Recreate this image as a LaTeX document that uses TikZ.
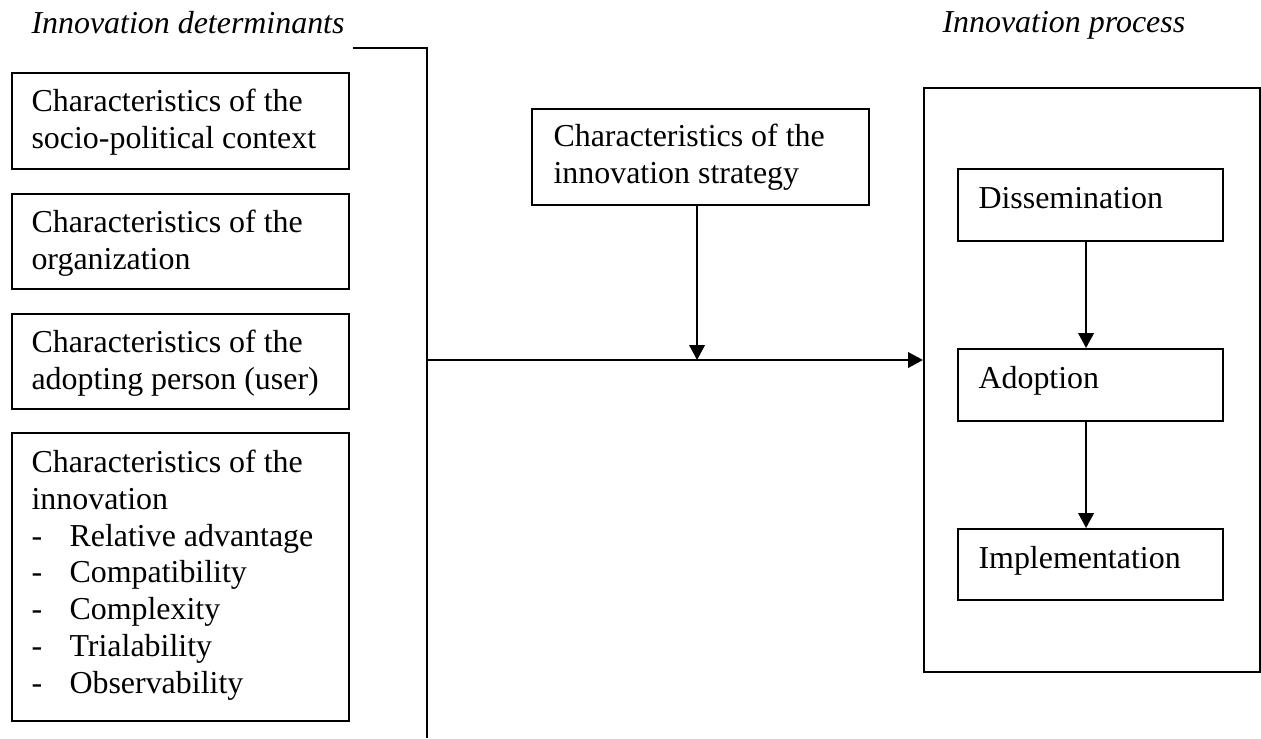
\documentclass[tikz,border=0pt]{standalone}
\usepackage{fontspec}
\setmainfont{Liberation Serif}
\usetikzlibrary{arrows.meta,calc}
\newcommand{\pxl}{0.3759pt}
\begin{document}
\begin{tikzpicture}[x=0.3759pt,y=-0.3759pt,
  box/.style={draw, line width=0.8pt, inner sep=0pt, anchor=north west},
  txt/.style={anchor=base west, inner sep=0pt, align=left, font=\fontsize{12}{13.8}\selectfont},
  ttl/.style={anchor=base west, inner sep=0pt, font=\fontsize{12}{13.8}\selectfont\itshape},
  conn/.style={line width=0.8pt},
  arr/.style={line width=0.8pt, -{Triangle[length=5.6pt,width=5.8pt]}}]
\useasboundingbox (0,0) rectangle (1261,738);
% titles
\node[ttl] (t-det) at (31,33) {Innovation determinants};
\node[ttl] (t-proc) at (942,32) {Innovation process};
% left boxes
\node[box, minimum width=337*\pxl, minimum height=96*\pxl] (b1) at (11,72) {};
\node[box, minimum width=337*\pxl, minimum height=95*\pxl] (b2) at (11,193) {};
\node[box, minimum width=337*\pxl, minimum height=95*\pxl] (b3) at (11,313) {};
\node[box, minimum width=337*\pxl, minimum height=288*\pxl] (b4) at (11,432) {};
% multi-line text: base anchor is the baseline of the last line
\node[txt] (b1t) at ($(b1.north west)+(20,76.7)$) {Characteristics of the\\socio-political context};
\node[txt] (b2t) at ($(b2.north west)+(20,76.7)$) {Characteristics of the\\organization};
\node[txt] (b3t) at ($(b3.north west)+(20,76.7)$) {Characteristics of the\\adopting person (user)};
\node[txt] (b4t) at ($(b4.north west)+(20,261)$) {Characteristics of the\\innovation\\
\makebox[14.3pt][l]{-}Relative advantage\\
\makebox[14.3pt][l]{-}Compatibility\\
\makebox[14.3pt][l]{-}Complexity\\
\makebox[14.3pt][l]{-}Trialability\\
\makebox[14.3pt][l]{-}Observability};
% strategy box
\node[box, minimum width=337*\pxl, minimum height=96*\pxl] (cs) at (531,108) {};
\node[txt] (cst) at ($(cs.north west)+(22,75.7)$) {Characteristics of the\\innovation strategy};
% process box
\node[box, minimum width=336*\pxl, minimum height=584*\pxl] (proc) at (923,87) {};
\node[box, minimum width=265*\pxl, minimum height=72*\pxl] (dis) at (957,168) {};
\node[box, minimum width=265*\pxl, minimum height=72*\pxl] (ado) at (957,348) {};
\node[box, minimum width=265*\pxl, minimum height=71*\pxl] (imp) at (957,528) {};
\node[txt] (dist) at ($(dis.north west)+(21,40)$) {Dissemination};
\node[txt] (adot) at ($(ado.north west)+(21,40)$) {Adoption};
\node[txt] (impt) at ($(imp.north west)+(21,40)$) {Implementation};
% bracket and connectors
\coordinate (jt) at (353,48);
\coordinate (jc) at (427,48);
\coordinate (jb) at (427,738);
\coordinate (jm) at (427,360);
\draw[conn] (jt) -- (jc) -- (jb);
\draw[arr] (jm) -- (jm -| proc.west);
\coordinate (csd) at ($(cs.south)+(-3.5,0)$);
\draw[arr] (csd) -- (csd |- jm);
\coordinate (d1) at ($(dis.south)+(-4.5,0)$);
\draw[arr] (d1) -- (d1 |- ado.north);
\coordinate (d2) at ($(ado.south)+(-4.5,0)$);
\draw[arr] (d2) -- (d2 |- imp.north);
\end{tikzpicture}
\end{document}
